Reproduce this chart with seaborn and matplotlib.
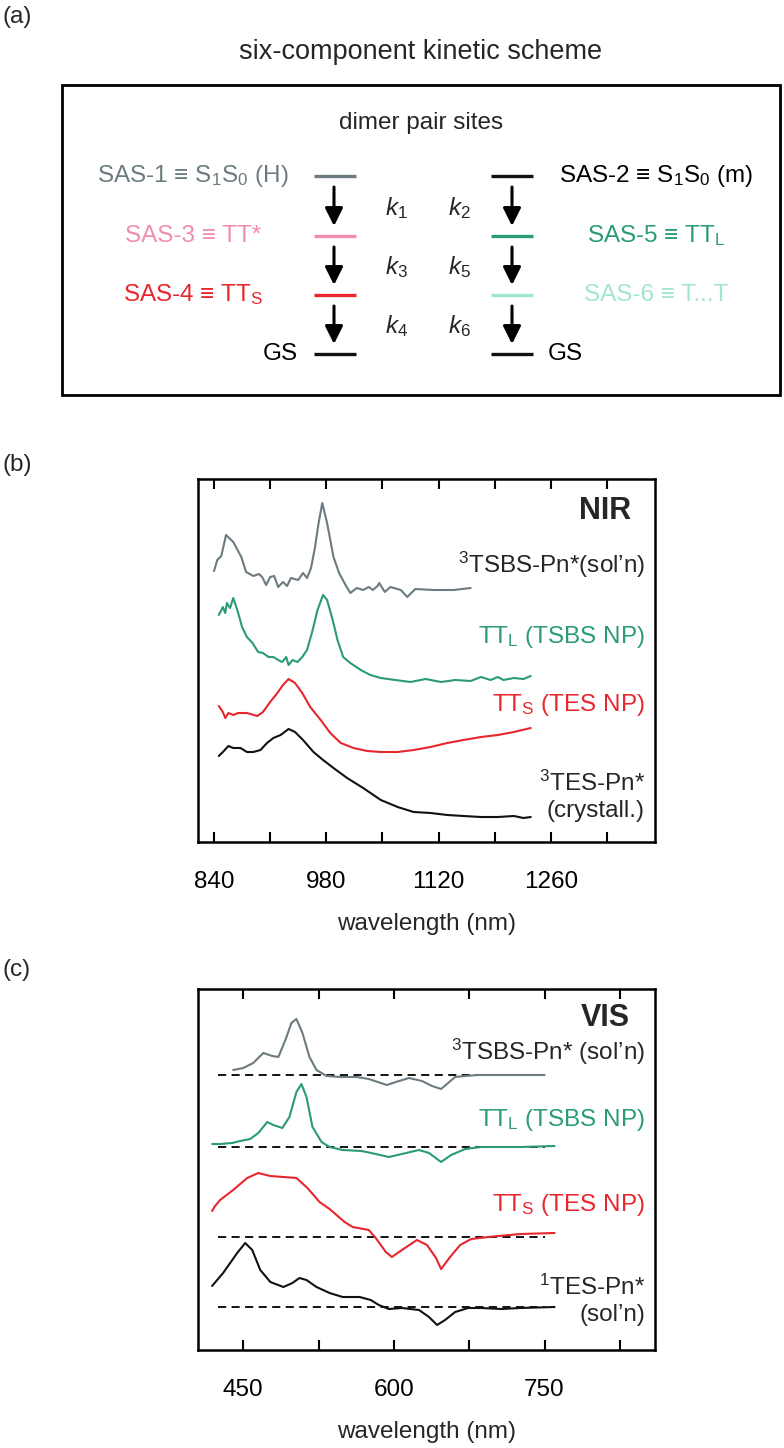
import numpy as np
import pandas as pd
import matplotlib
matplotlib.use("Agg")
import matplotlib.pyplot as plt
import seaborn as sns
from matplotlib.patches import Rectangle, FancyArrowPatch
from matplotlib.ticker import MultipleLocator

# ---------------- data: NIR (panel b) ----------------
nir_grey_nm = [840, 844, 849, 855, 864, 874, 880, 889, 896, 900, 905, 910, 915, 920, 926, 931, 936, 945,
               951, 956, 961, 966, 970, 975, 981, 989, 996, 1004, 1010, 1018, 1026, 1033, 1038, 1044, 1046,
               1053, 1060, 1073, 1081, 1091, 1114, 1139, 1160]
nir_grey_val = [2.71, 2.82, 2.86, 3.07, 3.00, 2.85, 2.70, 2.66, 2.68, 2.65, 2.57, 2.65, 2.66, 2.55, 2.60, 2.56,
                2.64, 2.62, 2.69, 2.64, 2.74, 2.95, 3.17, 3.39, 3.19, 2.85, 2.69, 2.57, 2.49, 2.54, 2.52, 2.55,
                2.52, 2.56, 2.59, 2.50, 2.55, 2.52, 2.45, 2.53, 2.52, 2.52, 2.54]

nir_green_nm = [846, 851, 854, 856, 860, 864, 869, 875, 881, 888, 895, 901, 908, 914, 920, 925, 930, 933,
                938, 944, 950, 956, 963, 969, 976, 981, 988, 994, 1001, 1010, 1023, 1035, 1048, 1066, 1085,
                1104, 1123, 1141, 1160, 1173, 1185, 1194, 1201, 1214, 1226, 1235]
nir_green_val = [2.27, 2.35, 2.29, 2.39, 2.34, 2.44, 2.32, 2.15, 2.05, 1.99, 1.90, 1.89, 1.85, 1.85, 1.82, 1.80,
                 1.85, 1.77, 1.82, 1.80, 1.85, 1.92, 2.12, 2.32, 2.47, 2.42, 2.22, 2.02, 1.85, 1.79, 1.72, 1.67,
                 1.64, 1.62, 1.60, 1.63, 1.60, 1.62, 1.61, 1.65, 1.62, 1.65, 1.62, 1.64, 1.63, 1.66]

nir_red_nm = [846, 851, 854, 858, 864, 870, 881, 894, 901, 910, 919, 926, 933, 941, 950, 960, 973, 985, 998,
              1014, 1031, 1048, 1069, 1089, 1110, 1131, 1151, 1173, 1194, 1214, 1235]
nir_red_val = [1.36, 1.30, 1.24, 1.29, 1.27, 1.29, 1.29, 1.26, 1.30, 1.40, 1.49, 1.57, 1.63, 1.59, 1.49, 1.35,
               1.22, 1.09, 0.99, 0.94, 0.91, 0.90, 0.90, 0.92, 0.95, 0.99, 1.02, 1.05, 1.07, 1.10, 1.14]

nir_black_nm = [846, 851, 858, 864, 873, 881, 889, 898, 906, 914, 923, 933, 941, 951, 964, 976, 989, 1006,
                1026, 1048, 1069, 1089, 1110, 1131, 1151, 1173, 1194, 1214, 1226, 1235]
nir_black_val = [0.86, 0.90, 0.96, 0.94, 0.94, 0.90, 0.90, 0.92, 0.99, 1.04, 1.07, 1.13, 1.10, 1.02, 0.90, 0.82,
                 0.74, 0.64, 0.54, 0.42, 0.35, 0.30, 0.29, 0.27, 0.26, 0.25, 0.25, 0.26, 0.24, 0.25]

# ---------------- data: VIS (panel c) ----------------
vis_grey_nm = [440, 450, 460, 470, 479, 485, 492, 498, 503, 509, 516, 523, 533, 546, 563, 575, 593, 602, 615,
               628, 638, 647, 654, 661, 671, 684, 704, 726, 750]
vis_grey_val = [2.80, 2.82, 2.87, 2.97, 2.94, 2.93, 3.10, 3.27, 3.31, 3.17, 2.93, 2.80, 2.74, 2.73, 2.73, 2.71,
                2.65, 2.68, 2.72, 2.69, 2.64, 2.61, 2.67, 2.73, 2.74, 2.75, 2.75, 2.75, 2.75]

vis_green_nm = [419, 427, 439, 447, 457, 465, 474, 480, 489, 496, 503, 508, 513, 519, 528, 536, 549, 568, 582,
                595, 608, 625, 635, 647, 657, 671, 687, 726, 760]
vis_green_val = [2.06, 2.06, 2.07, 2.09, 2.11, 2.17, 2.28, 2.25, 2.22, 2.33, 2.58, 2.66, 2.53, 2.23, 2.08, 2.03,
                 2.00, 1.99, 1.96, 1.93, 1.96, 2.00, 1.97, 1.88, 1.95, 2.01, 2.03, 2.03, 2.04]

vis_red_nm = [419, 422, 427, 440, 454, 465, 477, 490, 503, 514, 526, 536, 551, 559, 575, 582, 592, 598, 608,
              623, 633, 642, 647, 656, 666, 677, 694, 726, 760]
vis_red_val = [1.39, 1.44, 1.50, 1.60, 1.72, 1.77, 1.74, 1.73, 1.72, 1.62, 1.48, 1.41, 1.28, 1.23, 1.20, 1.12,
               0.98, 0.93, 1.00, 1.10, 1.05, 0.92, 0.81, 0.93, 1.05, 1.11, 1.13, 1.16, 1.17]

vis_black_nm = [419, 430, 444, 452, 459, 467, 477, 490, 499, 506, 513, 523, 536, 549, 566, 577, 585, 595, 608,
                625, 635, 643, 651, 661, 674, 687, 707, 726, 760]
vis_black_val = [0.64, 0.77, 0.97, 1.07, 1.00, 0.80, 0.68, 0.63, 0.67, 0.72, 0.70, 0.63, 0.57, 0.53, 0.53, 0.50,
                 0.45, 0.41, 0.42, 0.40, 0.33, 0.25, 0.30, 0.38, 0.42, 0.42, 0.41, 0.42, 0.43]

vis_baselines = [2.75, 2.03, 1.13, 0.43]
vis_baseline_span = [425, 750]

nir_ticks = [840, 980, 1120, 1260]
vis_ticks = [450, 600, 750]

# ---------------- colours ----------------
C_GREY = "#6b7b80"
C_GREEN = "#2a9b72"
C_RED = "#e8262d"
C_BLACK = "#111111"
C_PINK = "#f28db2"
C_MINT = "#a3e6d0"

# ---------------- style ----------------
sns.set_theme(style="white")
plt.rcParams["font.family"] = ["Liberation Sans", "DejaVu Sans"]
plt.rcParams["mathtext.fontset"] = "custom"
plt.rcParams["mathtext.rm"] = "Liberation Sans"
plt.rcParams["mathtext.it"] = "Liberation Sans:italic"
plt.rcParams["mathtext.default"] = "regular"

W, H = 784, 1448
fig = plt.figure(figsize=(W / 100, H / 100), dpi=100)
fig.patch.set_facecolor("white")

# overlay axes in pixel coordinates for panel (a) and annotations
ov = fig.add_axes([0, 0, 1, 1])
ov.set_xlim(0, W)
ov.set_ylim(H, 0)
ov.axis("off")

FS = 17.5

# ---------------- panel (a) ----------------
ov.text(2, 17, "(a)", fontsize=FS, ha="left", va="center")
ov.text(421, 52, "six-component kinetic scheme", fontsize=19.5, ha="center", va="center")
ov.add_patch(Rectangle((62, 85), 718, 310, fill=False, lw=2.0, ec="black"))
ov.text(421, 123, "dimer pair sites", fontsize=FS, ha="center", va="center")

rows = [176, 236, 295, 354]
left_cols = [C_GREY, C_PINK, C_RED, C_BLACK]
right_cols = [C_BLACK, C_GREEN, C_MINT, C_BLACK]
for yy, cl, cr in zip(rows, left_cols, right_cols):
    ov.plot([314, 356], [yy, yy], color=cl, lw=2.4, solid_capstyle="butt")
    ov.plot([491, 533], [yy, yy], color=cr, lw=2.4, solid_capstyle="butt")
for i in range(3):
    for xx in (334, 512):
        ov.add_patch(FancyArrowPatch((xx, rows[i] + 11), (xx, rows[i + 1] - 10),
                                     arrowstyle="-|>", mutation_scale=27, lw=2.2, color="black",
                                     shrinkA=0, shrinkB=0))

k_left = ["$\\mathit{k}_1$", "$\\mathit{k}_3$", "$\\mathit{k}_4$"]
k_right = ["$\\mathit{k}_2$", "$\\mathit{k}_5$", "$\\mathit{k}_6$"]
for i in range(3):
    ym = (rows[i] + rows[i + 1]) / 2 + 2
    ov.text(385, ym, k_left[i], fontsize=FS, ha="left", va="center")
    ov.text(448, ym, k_right[i], fontsize=FS, ha="left", va="center")

ov.text(193, rows[0], "SAS-1 ≡ S$_1$S$_0$ (H)", fontsize=FS, color=C_GREY, ha="center", va="center")
ov.text(193, rows[1], "SAS-3 ≡ TT*", fontsize=FS, color=C_PINK, ha="center", va="center")
ov.text(193, rows[2], "SAS-4 ≡ TT$_S$", fontsize=FS, color=C_RED, ha="center", va="center")
ov.text(298, rows[3], "GS", fontsize=FS, color="black", ha="right", va="center")
ov.text(656, rows[0], "SAS-2 ≡ S$_1$S$_0$ (m)", fontsize=FS, color="black", ha="center", va="center")
ov.text(656, rows[1], "SAS-5 ≡ TT$_L$", fontsize=FS, color=C_GREEN, ha="center", va="center")
ov.text(656, rows[2], "SAS-6 ≡ T...T", fontsize=FS, color=C_MINT, ha="center", va="center")
ov.text(548, rows[3], "GS", fontsize=FS, color="black", ha="left", va="center")

# ---------------- panel axes ----------------
AX_L, AX_R = 198, 655


def make_ax(top, bottom):
    ax = fig.add_axes([AX_L / W, 1 - bottom / H, (AX_R - AX_L) / W, (bottom - top) / H])
    ax.set_facecolor("none")
    for s in ax.spines.values():
        s.set_linewidth(1.8)
        s.set_color("black")
    ax.tick_params(axis="x", which="both", direction="in", top=True, bottom=True,
                   length=7, width=1.5, labelsize=FS, pad=21, colors="black")
    ax.tick_params(axis="y", left=False, right=False, labelleft=False)
    return ax


LW = 1.5

# panel (b)
axb = make_ax(479, 842)
for nm, val, col in [(nir_grey_nm, nir_grey_val, C_GREY),
                     (nir_green_nm, nir_green_val, C_GREEN),
                     (nir_red_nm, nir_red_val, C_RED),
                     (nir_black_nm, nir_black_val, C_BLACK)]:
    sns.lineplot(x=nm, y=val, ax=axb, color=col, lw=LW, sort=False, estimator=None)
axb.set_xlim(820, 1390)
axb.set_ylim(0, 3.63)
axb.xaxis.set_minor_locator(MultipleLocator(70))
axb.set_xticks(nir_ticks)
axb.set_xticklabels([str(t) for t in nir_ticks])
axb.set_xlabel("wavelength (nm)", fontsize=FS, labelpad=14)
axb.set_ylabel("ΔA / SAS ampl. (a.u.)", fontsize=FS, labelpad=30)

# panel (c)
axc = make_ax(989, 1350)
for nm, val, col in [(vis_grey_nm, vis_grey_val, C_GREY),
                     (vis_green_nm, vis_green_val, C_GREEN),
                     (vis_red_nm, vis_red_val, C_RED),
                     (vis_black_nm, vis_black_val, C_BLACK)]:
    sns.lineplot(x=nm, y=val, ax=axc, color=col, lw=LW, sort=False, estimator=None)
for b in vis_baselines:
    axc.plot(vis_baseline_span, [b, b], color="black", lw=1.3, ls=(0, (4.5, 3)), zorder=1)
axc.set_xlim(405, 860)
axc.set_ylim(0, 3.61)
axc.xaxis.set_minor_locator(MultipleLocator(75))
axc.set_xticks(vis_ticks)
axc.set_xticklabels([str(t) for t in vis_ticks])
axc.set_xlabel("wavelength (nm)", fontsize=FS, labelpad=14)
axc.set_ylabel("ΔA / SAS ampl. (a.u.)", fontsize=FS, labelpad=30)

# ---------------- annotations for (b) and (c) ----------------
ov.set_zorder(5)
TX = 645
ov.text(2, 465, "(b)", fontsize=FS, ha="left", va="center")
ov.text(579, 511, "NIR", fontsize=22, fontweight="bold", ha="left", va="center")
ov.text(TX, 565, "$^3$TSBS-Pn*(sol’n)", fontsize=FS, ha="right", va="center")
ov.text(TX, 637, "TT$_L$ (TSBS NP)", fontsize=FS, color=C_GREEN, ha="right", va="center")
ov.text(TX, 705, "TT$_S$ (TES NP)", fontsize=FS, color=C_RED, ha="right", va="center")
ov.text(TX, 783, "$^3$TES-Pn*", fontsize=FS, ha="right", va="center")
ov.text(TX, 811, "(crystall.)", fontsize=FS, ha="right", va="center")

ov.text(2, 970, "(c)", fontsize=FS, ha="left", va="center")
ov.text(581, 1018, "VIS", fontsize=22, fontweight="bold", ha="left", va="center")
ov.text(TX, 1052, "$^3$TSBS-Pn* (sol’n)", fontsize=FS, ha="right", va="center")
ov.text(TX, 1120, "TT$_L$ (TSBS NP)", fontsize=FS, color=C_GREEN, ha="right", va="center")
ov.text(TX, 1205, "TT$_S$ (TES NP)", fontsize=FS, color=C_RED, ha="right", va="center")
ov.text(TX, 1287, "$^1$TES-Pn*", fontsize=FS, ha="right", va="center")
ov.text(TX, 1315, "(sol’n)", fontsize=FS, ha="right", va="center")

fig.savefig("out.png", dpi=100, facecolor="white")
